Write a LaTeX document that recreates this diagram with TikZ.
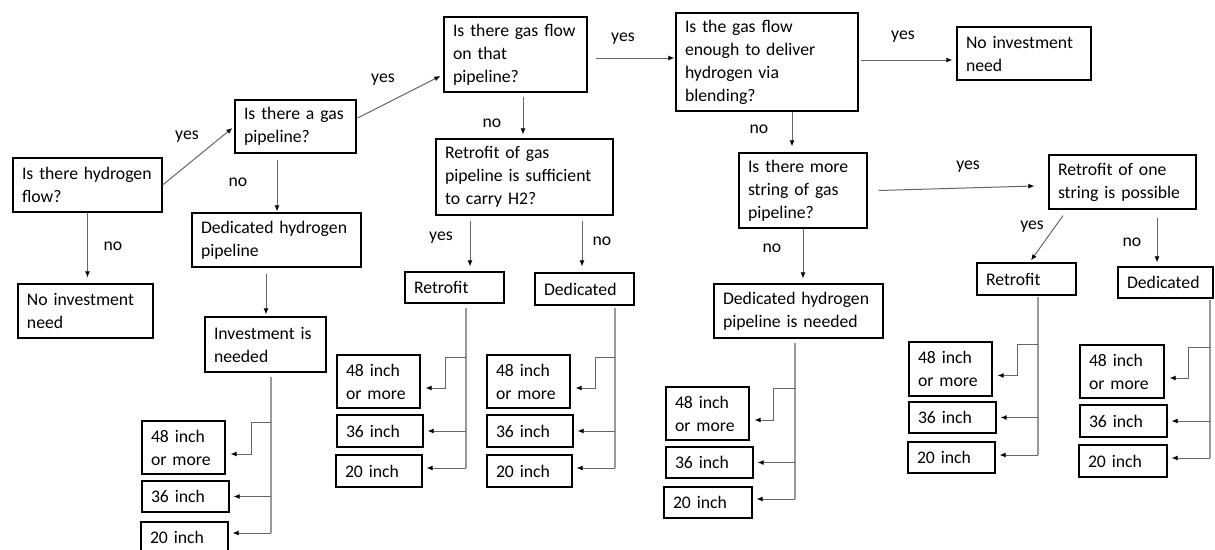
\documentclass[tikz,border=0pt]{standalone}
\usepackage{fontspec}
\setmainfont{Carlito}
\usetikzlibrary{arrows.meta,calc}
\tikzset{
  box/.style 2 args={draw=black, line width=1.2pt, rectangle, inner xsep=9pt, inner ysep=2pt,
    minimum width=#1pt, minimum height=#2pt, text width={#1pt-18pt}, align=left,
    font=\fontsize{17.7}{23}\selectfont},
  lbl/.style={font=\fontsize{17.7}{23}\selectfont, inner sep=0pt},
  arr/.style={draw=black!60, line width=1pt, -{Latex[length=6pt,width=5pt,color=black]}},
  ln/.style={draw=black!40, line width=1.2pt},
}
\newcommand{\pipegroup}[6]{%
  \coordinate (#1t) at (#2,#3);
  \coordinate (#1b) at (#2,#6);
  \draw[ln] (#1t) -- (#1b);
  \draw[arr] (#2,#4) -- (#5,#4) |- ([xshift=5pt,yshift=-6.5pt]#148.east);
  \draw[arr, shorten >=4pt] (#1t |- #136.east) -- (#136.east);
  \draw[arr, shorten >=4pt] (#1b) -- (#1b -| #120.east);
}
\begin{document}
\begin{tikzpicture}[x=1pt,y=-1pt]
\useasboundingbox (0,0) rectangle (1215,549);
\fill[white] (0,0) rectangle (1215,549);

% main boxes
\node[box={149}{54}] (A) at (87.5,185) {Is there hydrogen\\flow?};
\node[box={121}{53}] (B) at (295.5,126.5) {Is there a gas\\pipeline?};
\node[box={169}{54}] (C) at (276.5,240) {Dedicated hydrogen\\pipeline};
\node[box={135}{54}] (D) at (85.5,311) {No investment\\need};
\node[box={121}{55}] (E) at (265.5,344.5) {Investment is\\needed};
\node[box={143}{75}] (F) at (515.5,54.5) {Is there gas flow\\on that\\pipeline?};
\node[box={177}{76}] (G) at (524.5,177) {Retrofit of gas\\pipeline is sufficient\\to carry H2?};
\node[box={99}{31}] (H) at (454.5,287.5) {Retrofit};
\node[box={99}{32}] (I) at (584.5,289) {Dedicated};
\node[box={182}{98}] (J) at (767,62) {Is the gas flow\\enough to deliver\\hydrogen via\\blending?};
\node[box={134}{53}] (K) at (1024,53.5) {No investment\\need};
\node[box={128}{75}] (L) at (803,190.5) {Is there more\\string of gas\\pipeline?};
\node[box={169}{54}] (M) at (798.5,311) {Dedicated hydrogen\\pipeline is needed};
\node[box={147}{54}] (N) at (1122.5,182) {Retrofit of one\\string is possible};
\node[box={99}{32}] (O) at (1026.5,279) {Retrofit};
\node[box={95}{31}] (P) at (1165.5,282.5) {Dedicated};

% size boxes
\node[box={83}{53}] (E48) at (183.5,447.5) {48 inch\\or more};
\node[box={87}{31}] (E36) at (185.5,496.5) {36 inch};
\node[box={87}{31}] (E20) at (184.5,537.5) {20 inch};
\node[box={83}{53}] (H48) at (378.5,381.5) {48 inch\\or more};
\node[box={86}{32}] (H36) at (380,431) {36 inch};
\node[box={86}{32}] (H20) at (379,471) {20 inch};
\node[box={83}{53}] (I48) at (528.5,381.5) {48 inch\\or more};
\node[box={86}{32}] (I36) at (530,431) {36 inch};
\node[box={85}{32}] (I20) at (529.5,471) {20 inch};
\node[box={83}{53}] (M48) at (707.5,413.5) {48 inch\\or more};
\node[box={87}{31}] (M36) at (709.5,462.5) {36 inch};
\node[box={88}{31}] (M20) at (708,502.5) {20 inch};
\node[box={83}{54}] (O48) at (950.5,369) {48 inch\\or more};
\node[box={87}{31}] (O36) at (952.5,417.5) {36 inch};
\node[box={87}{31}] (O20) at (951.5,457.5) {20 inch};
\node[box={84}{53}] (P48) at (1122,371.5) {48 inch\\or more};
\node[box={87}{32}] (P36) at (1123.5,421) {36 inch};
\node[box={88}{32}] (P20) at (1123,461) {20 inch};

% decision connectors
\draw[arr] (A.east) -- ([xshift=-2pt,yshift=-1.5pt]B.west);
\draw[arr] (A.south) -- ([xshift=2pt,yshift=6pt]D.north);
\draw[arr] ([xshift=-18.5pt,yshift=-6pt]B.south) -- ([xshift=0.5pt,yshift=1pt]C.north);
\draw[arr] ([xshift=-10.5pt,yshift=-6pt]C.south) -- ([xshift=0.5pt,yshift=2pt]E.north);
\draw[arr] ([xshift=1pt,yshift=8.5pt]B.east) -- ([xshift=-3pt,yshift=-21.5pt]F.west);
\draw[arr] ([xshift=8pt,yshift=-3.5pt]F.east) -- ([xshift=-1pt,yshift=4pt]J.west);
\draw[arr] ([xshift=7.5pt,yshift=-4pt]F.south) -- ([xshift=-1.5pt,yshift=4pt]G.north);
\draw[arr] ([xshift=-54.5pt,yshift=-5pt]G.south) -- ([xshift=15.5pt,yshift=5pt]H.north);
\draw[arr] ([xshift=57.5pt,yshift=-5pt]G.south) -- ([xshift=-2.5pt,yshift=6pt]I.north);
\draw[arr] ([xshift=2pt,yshift=2pt]J.east) -- ([xshift=-4pt,yshift=-6.5pt]K.west);
\draw[arr] ([xshift=25pt]J.south) -- ([xshift=-11pt,yshift=6pt]L.north);
\draw[arr] ([xshift=11pt]L.east) -- ([xshift=-14pt,yshift=-4pt]N.west);
\draw[arr] (L.south) -- ([xshift=4.5pt,yshift=5pt]M.north);
\draw[arr] ([xshift=-59.5pt,yshift=-6pt]N.south) -- ([xshift=4.5pt,yshift=2pt]O.north);
\draw[arr] ([xshift=34.5pt,yshift=-8pt]N.south) -- ([xshift=-8.5pt,yshift=4pt]P.north);

% size branches
\pipegroup{E}{271}{377}{422}{251}{533}
\pipegroup{H}{466}{308}{357}{445}{468}
\pipegroup{I}{615}{308}{357}{595}{468}
\pipegroup{M}{795}{343}{388}{773}{499}
\pipegroup{O}{1038}{297}{344}{1017}{455}
\pipegroup{P}{1210}{300}{347}{1188}{458}

% labels
\node[lbl] (l1) at (187,137) {yes};
\node[lbl] (l2) at (113,246) {no};
\node[lbl] (l3) at (238,182) {no};
\node[lbl] (l4) at (383,80) {yes};
\node[lbl] (l5) at (492,123) {no};
\node[lbl] (l6) at (623,39) {yes};
\node[lbl] (l7) at (441,238) {yes};
\node[lbl] (l8) at (602,241) {no};
\node[lbl] (l9) at (903,37) {yes};
\node[lbl] (l10) at (759,129) {no};
\node[lbl] (l11) at (968,167) {yes};
\node[lbl] (l12) at (772,248) {no};
\node[lbl] (l13) at (1032,227) {yes};
\node[lbl] (l14) at (1132,242) {no};
\end{tikzpicture}
\end{document}
